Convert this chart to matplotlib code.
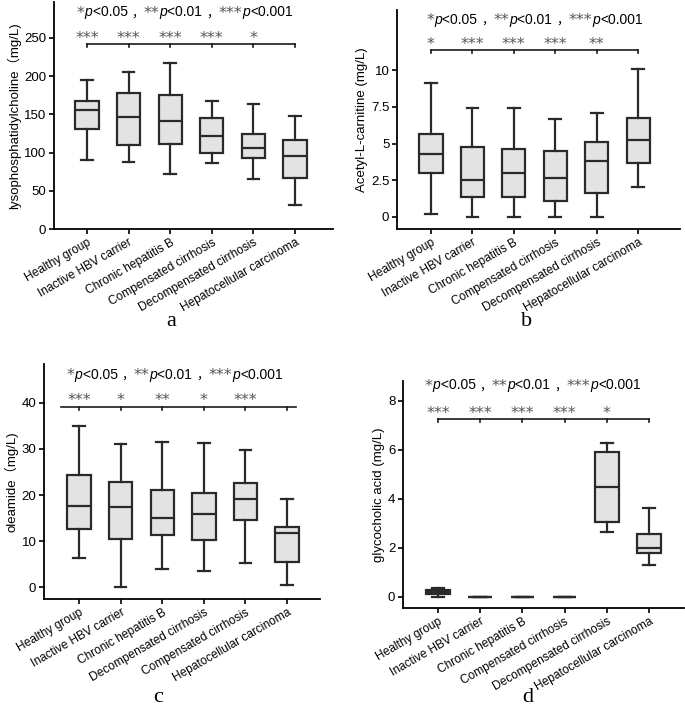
import matplotlib
matplotlib.use("Agg")
import matplotlib.pyplot as plt
from matplotlib.transforms import IdentityTransform

plt.rcParams['font.family'] = ['Liberation Sans', 'Noto Sans CJK SC', 'DejaVu Sans']

W, H = 685, 706

groups_ab = ["Healthy group", "Inactive HBV carrier", "Chronic hepatitis B",
             "Compensated cirrhosis", "Decompensated cirrhosis", "Hepatocellular carcinoma"]
groups_c = ["Healthy group", "Inactive HBV carrier", "Chronic hepatitis B",
            "Decompensated cirrhosis", "Compensated cirrhosis", "Hepatocellular carcinoma"]

# panel a: lysophosphatidylcholine
a_lo = [90, 88, 72, 87, 65, 32]
a_q1 = [131, 110, 111, 100, 93, 67]
a_med = [156, 146, 141, 122, 106, 96]
a_q3 = [167, 178, 175, 145, 124, 116]
a_hi = [195, 206, 217, 168, 164, 148]
a_stars = ["***", "***", "***", "***", "*"]

# panel b: acetyl-L-carnitine
b_lo = [0.23, 0.02, 0.02, 0.02, 0.02, 2.02]
b_q1 = [3.0, 1.34, 1.34, 1.09, 1.66, 3.7]
b_med = [4.27, 2.55, 3.02, 2.66, 3.82, 5.23]
b_q3 = [5.64, 4.75, 4.66, 4.5, 5.11, 6.77]
b_hi = [9.16, 7.45, 7.45, 6.66, 7.05, 10.07]
b_stars = ["*", "***", "***", "***", "**"]

# panel c: oleamide
c_lo = [6.3, 0.2, 4.0, 3.5, 5.2, 0.6]
c_q1 = [12.6, 10.4, 11.3, 10.3, 14.6, 5.6]
c_med = [17.7, 17.5, 15.0, 15.9, 19.2, 11.7]
c_q3 = [24.3, 22.9, 21.1, 20.4, 22.6, 13.2]
c_hi = [35.0, 31.0, 31.6, 31.3, 29.7, 19.1]
c_stars = ["***", "*", "**", "*", "***"]

# panel d: glycocholic acid
d_lo = [0.0, 0.0, 0.0, 0.0, 2.65, 1.30]
d_q1 = [0.14, 0.0, 0.0, 0.0, 3.04, 1.79]
d_med = [0.20, 0.0, 0.0, 0.0, 4.47, 1.99]
d_q3 = [0.30, 0.0, 0.0, 0.0, 5.89, 2.57]
d_hi = [0.37, 0.0, 0.0, 0.0, 6.29, 3.64]
d_stars = ["***", "***", "***", "***", "*"]

# header pieces: (text, kind)
header = [("*", "star"), ("p", "it"), ("<0.05 ", "rm"), ("，", "cjk"),
          ("**", "star"), ("p", "it"), ("<0.01 ", "rm"), ("，", "cjk"),
          ("***", "star"), ("p", "it"), ("<0.001", "rm")]

fig = plt.figure(figsize=(W / 100, H / 100), dpi=100)
renderer = fig.canvas.get_renderer()


def add_ax(left, top, right, bottom):
    return fig.add_axes([left / W, 1 - bottom / H, (right - left) / W, (bottom - top) / H])


def draw_header(ax, x, y):
    px, py = ax.transData.transform((x, y))
    py -= 4
    for txt, kind in header:
        kw = dict(fontsize=10, color='black', family='Liberation Sans')
        if kind == "star":
            kw.update(family='DejaVu Sans', color='#555555', fontsize=11.5)
        elif kind == "it":
            kw.update(style='italic')
        elif kind == "cjk":
            kw.update(family='Noto Sans CJK SC', fontsize=9)
        t = fig.text(px, py - (1.5 if kind == "star" else 0), txt,
                     transform=IdentityTransform(), ha='left', va='baseline', **kw)
        px = t.get_window_extent(renderer).x1


def panel(box, lo, q1, med, q3, hi, labels, stars, ylabel, ylim, xlim,
          yticks, yticklabels, sig_y, star_y, head_x, head_y, line_x, letter, letter_xy):
    ax = add_ax(*box)
    stats = []
    for i in range(len(lo)):
        stats.append(dict(whislo=lo[i], q1=q1[i], med=med[i], q3=q3[i],
                          whishi=hi[i], fliers=[]))
    lw = 1.6
    ax.bxp(stats, positions=range(1, 7), widths=0.56, showfliers=False,
           patch_artist=True,
           boxprops=dict(facecolor='#e3e3e3', edgecolor='#2a2a2a', linewidth=lw),
           medianprops=dict(color='#2a2a2a', linewidth=lw),
           whiskerprops=dict(color='#2a2a2a', linewidth=lw),
           capprops=dict(color='#2a2a2a', linewidth=lw))
    ax.set_xlim(*xlim)
    ax.set_ylim(*ylim)
    ax.set_yticks(yticks)
    ax.set_yticklabels(yticklabels, fontsize=9.5)
    ax.set_xticks(range(1, 7))
    ax.set_xticklabels(labels, rotation=30, ha='right', va='top',
                       rotation_mode='anchor', fontsize=8.6)
    ax.set_ylabel(ylabel, fontsize=9.5, labelpad=2)
    for s in ['top', 'right']:
        ax.spines[s].set_visible(False)
    for s in ['left', 'bottom']:
        ax.spines[s].set_linewidth(1.3)
    ax.tick_params(direction='out', length=3.5, width=1.2, pad=2)
    # significance bracket
    ax.plot(line_x, [sig_y, sig_y], color='#1a1a1a', lw=1.2, clip_on=False)
    span = ylim[1] - ylim[0]
    for i in range(1, 7):
        ax.plot([i, i], [sig_y, sig_y - span * 0.013], color='#1a1a1a', lw=1.2,
                clip_on=False)
    for i, st in enumerate(stars):
        ax.text(i + 1, star_y, st, ha='center', va='center',
                fontsize=11.5, color='#555555', family='DejaVu Sans')
    draw_header(ax, head_x, head_y)
    fig.text(letter_xy[0] / W, 1 - letter_xy[1] / H, letter, ha='center', va='center',
             fontsize=16, family='Liberation Serif')
    return ax


panel((54, 2, 333, 229), a_lo, a_q1, a_med, a_q3, a_hi, groups_ab, a_stars,
      "lysophosphatidylcholine（mg/L)", (0, 297), (0.21, 6.91),
      [0, 50, 100, 150, 200, 250], ['0', '50', '100', '150', '200', '250'],
      241.7, 249.5, 0.76, 283.6, [1, 6], "a", (171, 321))

panel((397, 10, 680, 229), b_lo, b_q1, b_med, b_q3, b_hi, groups_ab, b_stars,
      "Acetyl-L-carnitine (mg/L)", (-0.82, 14.1), (0.18, 7.01),
      [0, 2.5, 5, 7.5, 10], ['0', '2.5', '5', '7.5', '10'],
      11.36, 11.78, 0.90, 13.45, [1, 6], "b", (527, 321))

panel((44, 364, 320, 599), c_lo, c_q1, c_med, c_q3, c_hi, groups_c, c_stars,
      "oleamide（mg/L)", (-2.5, 48.4), (0.16, 6.79),
      [0, 10, 20, 30, 40], ['0', '10', '20', '30', '40'],
      39.0, 40.4, 0.71, 46.1, [0.57, 6.22], "c", (158, 697))

panel((403, 381, 684, 608), d_lo, d_q1, d_med, d_q3, d_hi, groups_ab, d_stars,
      "glycocholic acid (mg/L)", (-0.45, 8.8), (0.17, 6.83),
      [0, 2, 4, 6, 8], ['0', '2', '4', '6', '8'],
      7.24, 7.48, 0.69, 8.62, [1, 6], "d", (528, 697))

fig.savefig("out.png", dpi=100)
